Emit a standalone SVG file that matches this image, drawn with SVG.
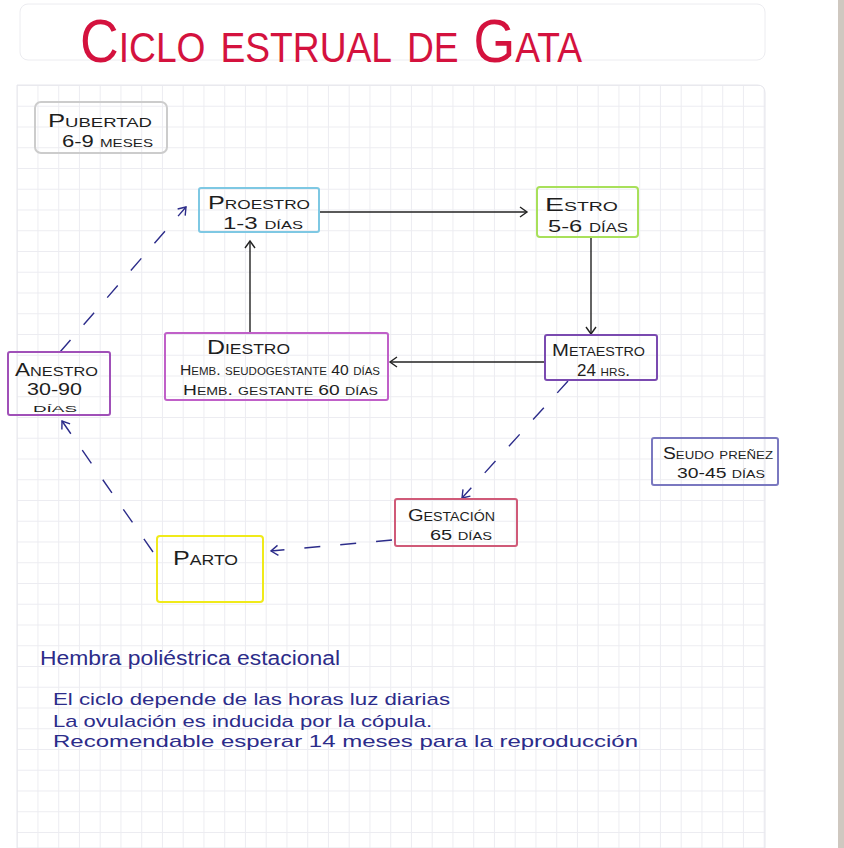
<svg xmlns="http://www.w3.org/2000/svg" width="844" height="848" viewBox="0 0 844 848">
  <defs>
    <pattern id="grid" patternUnits="userSpaceOnUse" x="16.7" y="85" width="20.75" height="20.75">
      <path d="M0,0.5 H20.75 M0.5,0 V20.75" fill="none" stroke="#ececf1" stroke-width="1"/>
    </pattern>
    <marker id="ah" markerWidth="12" markerHeight="12" refX="9" refY="6" orient="auto" markerUnits="userSpaceOnUse">
      <path d="M2,1 L9,6 L2,11" fill="none" stroke="#222" stroke-width="1.4"/>
    </marker>
    <marker id="ahb" markerWidth="12" markerHeight="12" refX="9" refY="6" orient="auto" markerUnits="userSpaceOnUse">
      <path d="M2,1 L9,6 L2,11" fill="none" stroke="#2c2c8a" stroke-width="1.4"/>
    </marker>
    <style>
      .t { font-family: "Liberation Sans", Arial, sans-serif; font-variant: small-caps; fill: #1e1e1e; }
      .n { font-family: "Liberation Sans", Arial, sans-serif; fill: #2c2c8a; }
      .box { fill: none; stroke-width: 2; }
      .solid { fill: none; stroke: #222; stroke-width: 1.4; marker-end: url(#ah); }
      .dash { fill: none; stroke: #2c2c8a; stroke-width: 1.4; stroke-dasharray: 16 20; marker-end: url(#ahb); }
    </style>
  </defs>

  <!-- paper -->
  <rect x="0" y="0" width="844" height="848" fill="#ffffff"/>
  <path d="M17,85 H757 Q765,85 765,93 V848 H17 Z" fill="url(#grid)" stroke="#e6e6ec" stroke-width="1"/>
  <rect x="20" y="4" width="745" height="56" rx="8" fill="#ffffff" stroke="#ececf0" stroke-width="1"/>
  <rect x="838" y="0" width="6" height="848" fill="#cfc8c0"/>

  <!-- title -->
  <text id="title" class="t" x="80" y="62" font-size="62" textLength="502" lengthAdjust="spacingAndGlyphs" style="fill:#d4123e">Ciclo estrual de Gata</text>

  <!-- connectors -->
  <g id="connectors">
    <line class="solid" x1="319" y1="212" x2="527" y2="212"/>
    <line class="solid" x1="591" y1="236" x2="591" y2="334"/>
    <line class="solid" x1="545" y1="362" x2="390" y2="362"/>
    <line class="solid" x1="250" y1="333" x2="250" y2="241"/>
    <line class="dash" x1="568" y1="381" x2="462" y2="498"/>
    <line class="dash" x1="392" y1="540" x2="271" y2="551"/>
    <line class="dash" x1="153" y1="552" x2="62" y2="421"/>
    <line class="dash" x1="60" y1="352" x2="186" y2="207"/>
  </g>

  <!-- nodes -->
  <g id="pubertad">
    <rect class="box" x="35" y="102" width="132" height="51" rx="6" stroke="#cccccc"/>
    <text class="t" x="48" y="127" font-size="18" textLength="104" lengthAdjust="spacingAndGlyphs">Pubertad</text>
    <text class="t" x="62" y="147" font-size="16" textLength="91" lengthAdjust="spacingAndGlyphs">6-9 meses</text>
  </g>
  <g id="proestro">
    <rect class="box" x="199" y="188" width="120" height="44" rx="2" stroke="#7ec8e3"/>
    <text class="t" x="208" y="209" font-size="19" textLength="102" lengthAdjust="spacingAndGlyphs">Proestro</text>
    <text class="t" x="223" y="229" font-size="16" textLength="80" lengthAdjust="spacingAndGlyphs">1-3 días</text>
  </g>
  <g id="estro">
    <rect class="box" x="537" y="187" width="101" height="50" rx="3" stroke="#a8e05a"/>
    <text class="t" x="545" y="211" font-size="19" textLength="73" lengthAdjust="spacingAndGlyphs">Estro</text>
    <text class="t" x="548" y="232" font-size="17" textLength="80" lengthAdjust="spacingAndGlyphs">5-6 días</text>
  </g>
  <g id="metaestro">
    <rect class="box" x="545" y="335" width="112" height="45" rx="2" stroke="#7a4ab0"/>
    <text class="t" x="552" y="356" font-size="17" textLength="93" lengthAdjust="spacingAndGlyphs">Metaestro</text>
    <text class="t" x="577" y="376" font-size="16" textLength="53" lengthAdjust="spacingAndGlyphs">24 hrs.</text>
  </g>
  <g id="diestro">
    <rect class="box" x="165" y="333" width="223" height="67" rx="2" stroke="#c060c8"/>
    <text class="t" x="207" y="354" font-size="20" textLength="83" lengthAdjust="spacingAndGlyphs">Diestro</text>
    <text class="t" x="180" y="375" font-size="15" textLength="200" lengthAdjust="spacingAndGlyphs">Hemb. seudogestante 40 días</text>
    <text class="t" x="183" y="395" font-size="15" textLength="195" lengthAdjust="spacingAndGlyphs">Hemb. gestante 60 días</text>
  </g>
  <g id="anestro">
    <rect class="box" x="8" y="352" width="102" height="63" rx="2" stroke="#a050b8"/>
    <text class="t" x="15" y="376" font-size="18" textLength="83" lengthAdjust="spacingAndGlyphs">Anestro</text>
    <text class="t" x="27" y="395" font-size="16" textLength="55" lengthAdjust="spacingAndGlyphs">30-90</text>
    <text class="t" x="33" y="412" font-size="13" textLength="44" lengthAdjust="spacingAndGlyphs">días</text>
  </g>
  <g id="seudopreñez">
    <rect class="box" x="652" y="438" width="126" height="47" rx="2" stroke="#7a78c0"/>
    <text class="t" x="663" y="459" font-size="16" textLength="110" lengthAdjust="spacingAndGlyphs">Seudo preñez</text>
    <text class="t" x="677" y="478" font-size="15" textLength="88" lengthAdjust="spacingAndGlyphs">30-45 días</text>
  </g>
  <g id="gestacion">
    <rect class="box" x="395" y="499" width="122" height="47" rx="2" stroke="#d05a78"/>
    <text class="t" x="408" y="521" font-size="17" textLength="87" lengthAdjust="spacingAndGlyphs">Gestación</text>
    <text class="t" x="430" y="540" font-size="15" textLength="62" lengthAdjust="spacingAndGlyphs">65 días</text>
  </g>
  <g id="parto">
    <rect class="box" x="157" y="536" width="106" height="66" rx="3" stroke="#f0ea1a" stroke-width="3"/>
    <text class="t" x="173" y="565" font-size="20" textLength="65" lengthAdjust="spacingAndGlyphs">Parto</text>
  </g>

  <!-- notes -->
  <g id="notes">
    <text class="n" x="40" y="665" font-size="20" textLength="300" lengthAdjust="spacingAndGlyphs">Hembra poliéstrica estacional</text>
    <text class="n" x="53" y="705" font-size="17" textLength="397" lengthAdjust="spacingAndGlyphs">El ciclo depende de las horas luz diarias</text>
    <text class="n" x="53" y="727" font-size="17" textLength="379" lengthAdjust="spacingAndGlyphs">La ovulación es inducida por la cópula.</text>
    <text class="n" x="53" y="747" font-size="17" textLength="585" lengthAdjust="spacingAndGlyphs">Recomendable esperar 14 meses para la reproducción</text>
  </g>
</svg>
